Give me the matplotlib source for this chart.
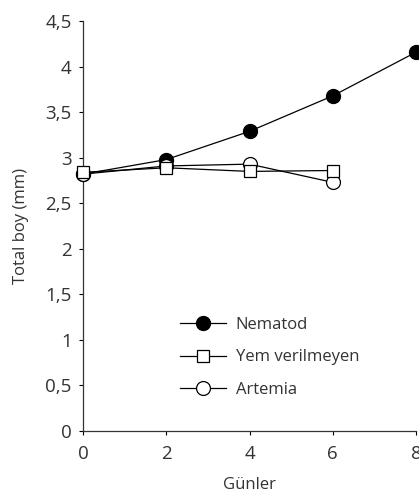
import matplotlib
matplotlib.use('Agg')
import matplotlib.pyplot as plt

days = [0, 2, 4, 6, 8]
nematod = [2.82, 2.98, 3.29, 3.68, 4.16]
days_short = [0, 2, 4, 6]
yem_verilmeyen = [2.84, 2.89, 2.85, 2.86]
artemia = [2.82, 2.91, 2.93, 2.73]

yticks = [0, 0.5, 1, 1.5, 2, 2.5, 3, 3.5, 4, 4.5]
ytick_labels = ['0', '0,5', '1', '1,5', '2', '2,5', '3', '3,5', '4', '4,5']
xticks = [0, 2, 4, 6, 8]

plt.rcParams['font.family'] = ['Open Sans', 'DejaVu Sans']

fig = plt.figure(figsize=(4.19, 4.93), dpi=100)
ax = fig.add_axes([0.198, 0.126, 0.795, 0.831])

ax.plot(days, nematod, color='black', lw=0.9, marker='o', ms=10,
        mfc='black', mec='black', label='Nematod', clip_on=False, zorder=3)
ax.plot(days_short, yem_verilmeyen, color='black', lw=0.9, marker='s', ms=9,
        mfc='white', mec='black', mew=0.9, label='Yem verilmeyen', clip_on=False, zorder=4)
ax.plot(days_short, artemia, color='black', lw=0.9, marker='o', ms=10,
        mfc='white', mec='black', mew=0.9, label='Artemia', clip_on=False, zorder=3)

ax.set_xlim(0, 8)
ax.set_ylim(0, 4.5)
ax.set_xticks(xticks)
ax.set_yticks(yticks)
ax.set_yticklabels(ytick_labels)
ax.tick_params(axis='both', labelsize=13.5, labelcolor='#333333', length=3,
               width=0.8, direction='out')
ax.tick_params(axis='x', pad=7)
ax.tick_params(axis='y', pad=5)
for s in ['top', 'right']:
    ax.spines[s].set_visible(False)
for s in ['left', 'bottom']:
    ax.spines[s].set_linewidth(0.9)
    ax.spines[s].set_color('#333333')

ax.set_xlabel('Günler', fontsize=12, color='#333333', labelpad=10)
ax.set_ylabel('Total boy (mm)', fontsize=12, color='#333333', labelpad=12)

ax.legend(loc='upper left', bbox_to_anchor=(0.246, 0.315), frameon=False,
          fontsize=12, handlelength=2.75, labelspacing=1.0, handletextpad=0.6,
          labelcolor='#333333')

fig.savefig('out.png', dpi=100)
